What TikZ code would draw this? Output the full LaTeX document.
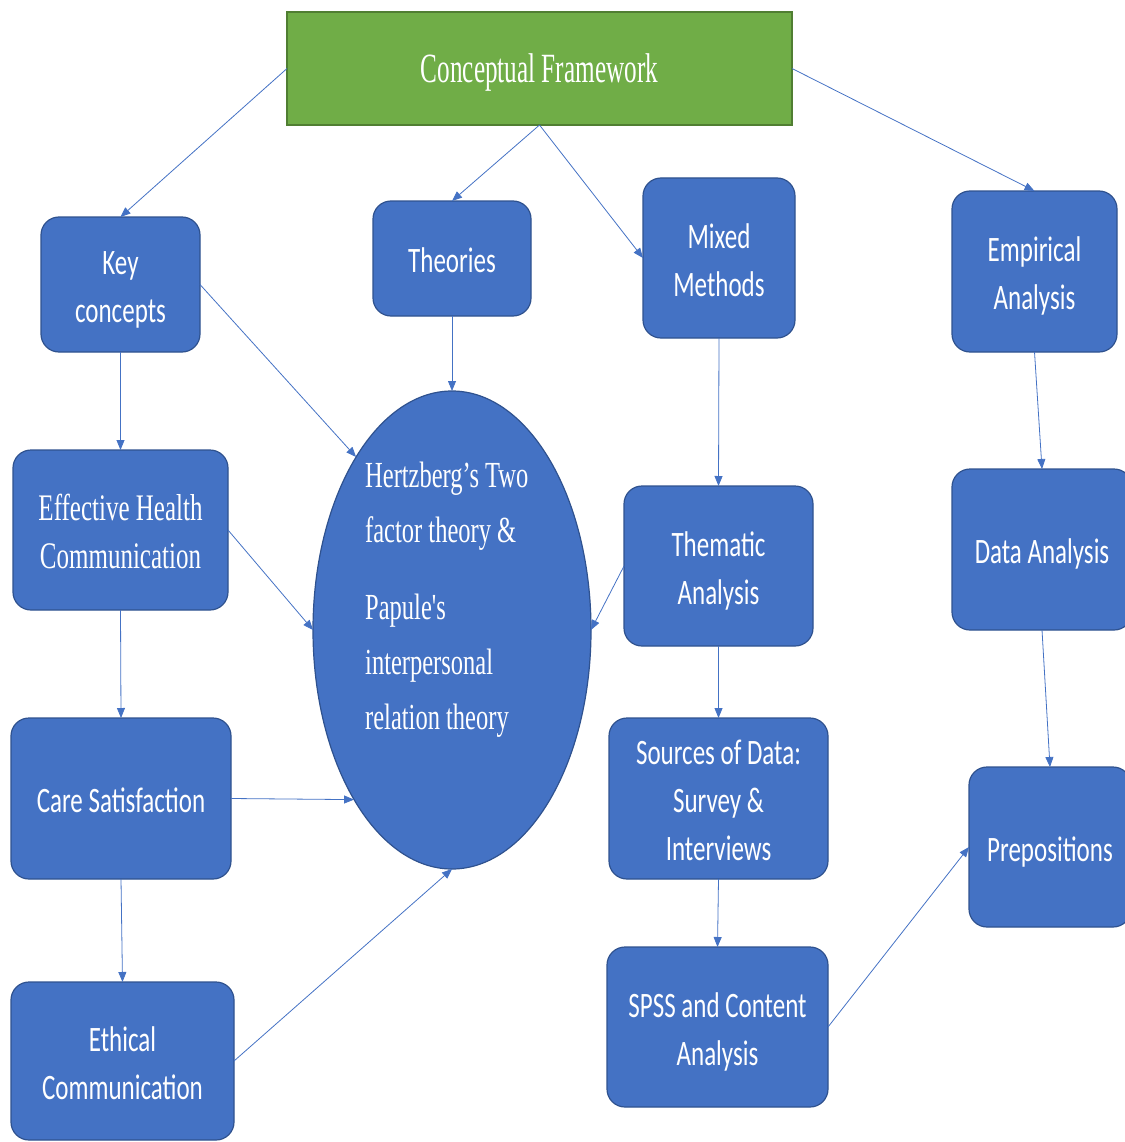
\documentclass[tikz,border=0pt]{standalone}
\usepackage{fontspec}
\usepackage{graphicx}
\setmainfont{Liberation Serif}
\newfontfamily\boxfont{Carlito}
\usetikzlibrary{shapes.geometric,arrows.meta}
\definecolor{boxblue}{HTML}{4472C4}
\definecolor{boxedge}{HTML}{2F528F}
\definecolor{titlegreen}{HTML}{70AD47}
\definecolor{titleedge}{HTML}{507E32}
% rows of text, stretched vertically by #1, column type #2, set slightly low
\newcommand\tallrows[3]{\raisebox{-4.5pt}[\height][\depth]{\scalebox{1}[#1]{\begin{tabular}{@{}#2@{}}#3\end{tabular}}}}

\begin{document}
\begin{tikzpicture}[x=1pt,y=-1pt,
  size/.style 2 args={minimum width=#1pt, minimum height=#2pt},
  box/.style={draw=boxedge, line width=1.2pt, fill=boxblue, rounded corners=18pt,
    inner sep=0pt, outer sep=0pt, text=white,
    font=\boxfont\fontsize{25}{33.5}\selectfont},
  serifbox/.style={box, font=\fontsize{25}{32}\selectfont},
  titlebox/.style={draw=titleedge, line width=1.2pt, fill=titlegreen,
    inner sep=0pt, outer sep=0pt, text=white, font=\fontsize{25.2}{30}\selectfont},
  link/.style={draw=boxblue, line width=0.8pt, -{Triangle[length=10pt,width=8pt]}},
]
\useasboundingbox (0,0) rectangle (1124,1142);

% title
\node[titlebox, size={505}{113}] (cf) at (539.5,68.5) {\tallrows{1.65}{c}{Conceptual Framework}};

% first row
\node[box, size={159}{135}] (kc) at (120.5,284.5) {\tallrows{1.43}{c}{Key\\concepts}};
\node[box, size={158}{115}] (th) at (452,258.5) {\tallrows{1.43}{c}{Theories}};
\node[box, size={152}{160}] (mm) at (719,258) {\tallrows{1.43}{c}{Mixed\\Methods}};
\node[box, size={165}{161}] (ea) at (1034.5,271.5) {\tallrows{1.43}{c}{Empirical\\Analysis}};

% central theory ellipse
\node[ellipse, draw=boxedge, line width=1.2pt, fill=boxblue, inner sep=0pt, outer sep=0pt,
  size={278}{478}] (ell) at (452,630) {};
\node[anchor=base west, inner sep=0pt, text=white, font=\fontsize{24.5}{36.7}\selectfont]
  (elltext) at (365,487)
  {\scalebox{1}[1.5]{\begin{tabular}[t]{@{}l@{}}Hertzberg’s Two\\factor theory \&\\[14.7pt]
   Papule\textquotesingle s\\interpersonal\\relation theory\end{tabular}}};

% left column
\node[serifbox, size={215}{160}] (ehc) at (120.5,530) {\tallrows{1.5}{c}{Effective Health\\Communication}};
\node[box, size={220}{161}] (cs) at (121,798.5) {\tallrows{1.43}{c}{Care Satisfaction}};
\node[box, size={223}{158}] (ec) at (122.5,1061) {\tallrows{1.43}{c}{Ethical\\Communication}};

% middle-right column
\node[box, size={189}{160}] (ta) at (718.5,566) {\tallrows{1.43}{c}{Thematic\\Analysis}};
\node[box, size={219}{161}] (sd) at (718.5,798.5) {\tallrows{1.43}{c}{Sources of Data:\\Survey \&\\Interviews}};
\node[box, size={221}{160}] (spss) at (717.5,1027) {\tallrows{1.43}{c}{SPSS and Content\\Analysis}};

% right column
\node[box, size={180}{161}] (da) at (1042,549.5) {\tallrows{1.43}{c}{Data Analysis}};
\node[box, size={162}{160}] (pr) at (1050,847) {\tallrows{1.43}{c}{Prepositions}};

% connectors
\draw[link] (cf.west) -- (kc.north);
\draw[link] (cf.south) -- (th.north);
\draw[link] (cf.south) -- (mm.west);
\draw[link] (cf.east) -- (ea.north);
\draw[link] (kc.east) -- (ell.119.7);
\draw[link] (kc.south) -- (ehc.north);
\draw[link] (th.south) -- (ell.north);
\draw[link] (mm.south) -- (ta.north);
\draw[link] (ea.south) -- (da.north);
\draw[link] (ehc.east) -- (ell.west);
\draw[link] (ehc.south) -- (cs.north);
\draw[link] (ta.west) -- (ell.east);
\draw[link] (ta.south) -- (sd.north);
\draw[link] (da.south) -- (pr.north);
\draw[link] (cs.east) -- (ell.240.2);
\draw[link] (cs.south) -- (ec.north);
\draw[link] (ec.east) -- (ell.south);
\draw[link] (sd.south) -- (spss.north);
\draw[link] (spss.east) -- (pr.west);
\end{tikzpicture}
\end{document}
